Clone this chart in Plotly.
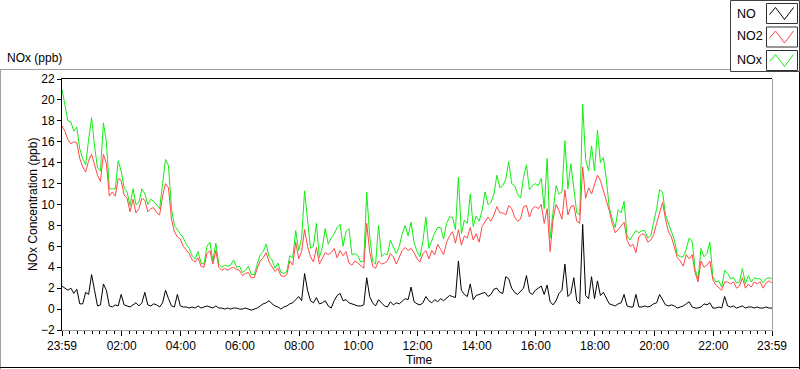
import plotly.graph_objects as go
import pandas as pd

# ---- data (ppb), one sample every 6 minutes from 23:59 to 23:59 next day ----
START_TIME = "2014-01-01 23:59"
STEP = "6min"

NO2 = [
    17.5, 17.0, 16.2, 15.8, 16.0, 15.9, 14.4, 13.6, 13.1, 14.2, 14.8, 13.8, 12.8, 12.2, 14.8, 13.9, 10.8, 11.2, 10.8, 12.5,
    12.3, 10.9, 10.6, 9.3, 10.5, 9.2, 9.6, 10.6, 10.4, 9.3, 9.6, 9.7, 9.2, 9.0, 10.8, 12.0, 11.6, 8.6, 7.4, 6.9, 6.7,
    6.0, 5.6, 5.3, 4.7, 4.5, 4.9, 4.1, 4.0, 5.3, 5.6, 4.3, 5.6, 4.0, 3.7, 3.9, 3.7, 3.9, 4.0, 3.8, 3.7,
    3.2, 3.4, 3.5, 3.0, 3.0, 3.9, 4.6, 4.9, 5.4, 4.5, 4.1, 3.6, 3.9, 3.2, 3.1, 3.3, 4.6, 4.2, 6.4, 4.8,
    5.5, 7.6, 6.0, 5.0, 4.5, 5.9, 4.3, 4.9, 5.4, 5.2, 5.4, 5.8, 4.9, 5.6, 5.1, 5.5, 4.4, 4.2, 4.6, 4.4,
    4.1, 3.9, 8.2, 5.5, 4.1, 3.9, 4.6, 4.3, 4.4, 4.6, 5.3, 5.0, 4.3, 5.0, 5.6, 5.9, 5.6, 5.8, 5.4, 4.8,
    4.5, 5.3, 5.6, 4.8, 5.6, 5.2, 6.2, 5.7, 5.2, 6.4, 7.0, 7.4, 6.3, 7.6, 6.1, 7.0, 6.8, 7.8, 6.6, 7.2,
    6.4, 7.9, 8.3, 8.8, 8.4, 9.0, 9.8, 9.2, 9.2, 9.0, 9.9, 9.6, 8.8, 8.4, 8.6, 9.8, 9.9, 8.8, 9.6, 9.8,
    9.6, 10.0, 8.2, 9.6, 5.5, 8.6, 10.0, 9.4, 8.6, 11.4, 9.0, 9.8, 9.9, 8.4, 8.2, 13.6, 10.6, 11.6, 11.0, 11.8,
    12.8, 12.3, 11.4, 10.4, 9.4, 8.2, 7.3, 7.6, 7.9, 8.3, 6.6, 6.0, 6.2, 5.4, 6.9, 7.2, 7.1, 6.4, 6.6, 7.1,
    8.2, 9.2, 10.2, 8.6, 7.4, 6.9, 5.8, 4.9, 4.6, 4.1, 5.2, 4.8, 5.2, 3.5, 2.6, 4.6, 4.0, 4.2, 4.6, 2.8,
    2.3, 2.0, 1.8, 2.6, 2.6, 2.4, 2.6, 2.0, 2.2, 3.0, 2.0, 2.4, 2.1, 2.6, 2.4, 2.6, 2.0, 2.5, 2.7, 2.5,
]

NOX = [
    21.0, 19.3, 18.0, 17.9, 17.0, 17.4, 15.3, 14.4, 13.8, 16.2, 18.3, 15.6, 13.5, 13.2, 17.8, 16.0, 11.5, 11.5, 11.5, 14.2,
    13.2, 11.6, 11.2, 9.9, 11.5, 10.0, 10.2, 11.5, 11.0, 10.0, 10.5, 10.3, 10.0, 9.6, 12.0, 14.3, 13.7, 9.6, 8.0, 7.6, 7.2,
    6.8, 6.2, 5.8, 5.1, 4.8, 5.5, 4.4, 4.3, 6.0, 6.4, 4.6, 6.3, 4.3, 4.0, 4.2, 4.1, 4.2, 4.7, 4.0, 4.1,
    3.5, 3.7, 4.1, 3.3, 3.3, 4.3, 5.2, 5.5, 6.2, 5.0, 4.7, 3.9, 4.4, 3.5, 3.4, 3.6, 5.1, 4.9, 7.5, 5.6,
    6.8, 11.3, 8.6, 5.8, 6.0, 8.2, 4.9, 5.9, 7.7, 6.2, 6.8, 7.2, 7.8, 8.1, 6.0, 7.4, 7.7, 5.2, 5.3, 5.1,
    4.5, 4.6, 11.2, 7.0, 4.6, 4.3, 8.0, 5.0, 5.3, 5.2, 6.6, 6.0, 5.3, 6.0, 7.2, 8.0, 7.0, 8.3, 6.4, 5.5,
    5.0, 6.5, 8.8, 5.8, 6.6, 7.3, 7.8, 7.8, 6.7, 8.2, 8.8, 8.8, 7.6, 12.6, 7.2, 8.5, 8.2, 11.0, 7.9, 8.9,
    8.4, 9.4, 11.2, 10.0, 10.2, 11.0, 12.8, 11.6, 11.8, 12.4, 14.1, 12.0, 11.8, 11.0, 10.6, 12.6, 13.8, 11.4, 11.8, 12.0,
    11.8, 12.5, 9.6, 14.4, 6.8, 9.6, 11.8, 11.0, 11.2, 16.1, 11.5, 13.9, 11.4, 9.2, 9.0, 19.6, 14.3, 13.2, 15.6, 13.2,
    17.1, 14.0, 14.5, 12.4, 9.7, 8.6, 7.8, 9.5, 9.2, 10.3, 7.0, 6.6, 7.1, 7.5, 7.3, 7.5, 7.5, 6.8, 7.0, 8.3,
    9.6, 11.4, 11.2, 9.0, 8.2, 7.5, 6.6, 5.2, 5.0, 5.0, 5.7, 6.8, 6.5, 3.8, 2.9, 5.8, 5.0, 5.3, 6.4, 3.1,
    2.6, 2.7, 2.1, 3.7, 3.4, 2.9, 3.0, 2.5, 2.6, 3.9, 2.4, 3.2, 2.6, 3.0, 2.9, 2.9, 2.5, 2.9, 3.0, 2.9,
]

NO = [
    2.2, 2.0, 1.8, 2.0, 1.5, 1.9, 0.5, 0.5, 1.6, 1.4, 3.3, 1.8, 0.3, 0.4, 2.4, 1.8, 0.3, 0.2, 0.4, 0.3,
    1.4, 0.4, 0.3, 0.2, 0.4, 0.6, 0.3, 0.6, 1.6, 0.4, 0.3, 0.5, 0.4, 0.2, 0.6, 1.8, 1.0, 0.3, 0.2, 1.4, 0.3,
    0.2, 0.2, 0.1, 0.2, 0.1, 0.3, 0.1, 0.2, 0.3, 0.2, 0.1, 0.3, 0.1, 0.1, 0.0, 0.1, 0.0, 0.1, 0.1, 0.0,
    0.0, 0.1, 0.0, -0.1, 0.0, 0.1, 0.3, 0.5, 0.6, 0.8, 0.5, 0.3, 0.2, 0.0, 0.2, 0.3, 0.5, 0.6, 0.9, 1.2,
    0.8, 3.4, 1.8, 0.8, 0.6, 1.1, 0.5, 0.6, 0.8, 0.3, 0.1, 0.8, 1.3, 1.5, 0.8, 0.9, 0.6, 0.5, 0.4, 0.3,
    0.3, 0.4, 3.0, 1.2, 0.6, 0.3, 0.9, 0.6, 0.3, 0.2, 0.7, 0.4, 0.6, 0.5, 0.8, 1.0, 0.9, 2.1, 0.7, 0.5,
    0.4, 0.6, 1.2, 0.8, 0.6, 0.9, 0.7, 1.0, 0.8, 1.1, 1.3, 1.2, 1.1, 4.6, 1.8, 1.4, 1.2, 2.4, 0.9, 1.3,
    1.4, 1.5, 1.6, 1.2, 1.4, 1.9, 2.0, 1.6, 1.5, 3.1, 2.9, 2.0, 1.6, 1.4, 1.7, 2.0, 3.2, 1.6, 1.4, 1.8,
    2.0, 2.2, 1.4, 2.3, 0.7, 0.4, 0.8, 1.5, 1.8, 4.3, 1.2, 1.5, 3.0, 0.8, 0.5, 8.1, 1.3, 1.0, 3.1, 1.0,
    2.7, 1.3, 1.6, 1.0, 0.5, 0.4, 0.3, 0.5, 0.6, 1.4, 0.3, 0.2, 0.2, 1.4, 0.2, 0.2, 0.3, 0.2, 0.3, 0.5,
    0.6, 1.4, 0.9, 0.4, 0.3, 0.4, 0.3, 0.1, 0.2, 0.3, 0.5, 0.7, 0.2, 0.1, 0.1, 0.2, 0.5, 0.4, 0.6, 0.1,
    0.1, 0.2, 0.1, 1.2, 0.3, 0.2, 0.3, 0.1, 0.2, 0.3, 0.1, 0.2, 0.2, 0.1, 0.2, 0.1, 0.1, 0.2, 0.1, 0.1,
]

TICK_TIMES = ["2014-01-01 23:59", "2014-01-02 02:00", "2014-01-02 04:00", "2014-01-02 06:00",
              "2014-01-02 08:00", "2014-01-02 10:00", "2014-01-02 12:00", "2014-01-02 14:00",
              "2014-01-02 16:00", "2014-01-02 18:00", "2014-01-02 20:00", "2014-01-02 22:00",
              "2014-01-02 23:59"]
TICK_LABELS = ["23:59", "02:00", "04:00", "06:00", "08:00", "10:00", "12:00", "14:00",
               "16:00", "18:00", "20:00", "22:00", "23:59"]
Y_RANGE = [-2, 22]
SERIES_NAMES = ["NO", "NO2", "NOx"]

assert len(NO2) == len(NOX) == len(NO) == 241, (len(NO2), len(NOX), len(NO))
times = pd.date_range(START_TIME, periods=len(NO2), freq=STEP)

W, H = 800, 369
PL, PR, PT, PB = 62, 772, 79, 330   # plot area in pixels
FONT = "Liberation Sans"
C_NO, C_NO2, C_NOX = "#000000", "#FF4848", "#11EE11"


def fx(px):
    return (px - PL) / (PR - PL)


def fy(py):
    return (PB - py) / (PB - PT)


fig = go.Figure()
fig.add_trace(go.Scatter(x=times, y=NOX, mode="lines", line=dict(color=C_NOX, width=1), name="NOx", showlegend=False))
fig.add_trace(go.Scatter(x=times, y=NO2, mode="lines", line=dict(color=C_NO2, width=1), name="NO2", showlegend=False))
fig.add_trace(go.Scatter(x=times, y=NO, mode="lines", line=dict(color=C_NO, width=1), name="NO", showlegend=False))

shapes = []


def line(x0, y0, x1, y1, color, width=1):
    shapes.append(dict(type="line", xref="paper", yref="paper", x0=fx(x0), y0=fy(y0), x1=fx(x1), y1=fy(y1),
                       line=dict(color=color, width=width), layer="above"))


# plot frame
line(PL, PT - 0.5, PR, PT - 0.5, "#000000")
line(PR + 0.5, PT, PR + 0.5, PB, "#A0A0A0")
line(PL, PB + 0.5, PR + 0.5, PB + 0.5, "#A0A0A0")
line(PL - 0.5, PT - 1, PL - 0.5, PB + 1, "#000000")

# outer panel frame
line(0, 69.5, 730, 69.5, "#A0A0A0")
line(0.5, 69.5, 0.5, H, "#A0A0A0")
line(0, H - 1.5, W, H - 1.5, "#000000")
line(W - 0.5, 71.5, W - 0.5, H, "#000000")

# legend box
shapes.append(dict(type="rect", xref="paper", yref="paper", x0=fx(730.5), x1=fx(799.5), y0=fy(71.5), y1=fy(0.5),
                   line=dict(color="#404040", width=1), fillcolor="white", layer="above"))
rows = [(3.5, 23.5, 13.5), (27, 47, 36), (50.5, 70.5, 60)]
colors = [C_NO, C_NO2, C_NOX]
annotations = []
for (ya, yb, yc), col, name in zip(rows, colors, SERIES_NAMES):
    bx0, bx1 = 766.5, 797.5
    shapes.append(dict(type="rect", xref="paper", yref="paper", x0=fx(bx0), x1=fx(bx1), y0=fy(yb), y1=fy(ya),
                       line=dict(color="#303030", width=1), fillcolor="white", layer="above"))
    pts = [(bx0 + 3, yb - 9), (bx0 + 9, ya + 4), (bx0 + 18, yb - 4), (bx0 + 27, ya + 4)]
    path = "M " + " L ".join(f"{fx(px)},{fy(py)}" for px, py in pts)
    shapes.append(dict(type="path", xref="paper", yref="paper", path=path,
                       line=dict(color=col, width=1), layer="above"))
    annotations.append(dict(text=name, x=fx(735), y=fy(yc), xref="paper", yref="paper",
                            xanchor="left", yanchor="middle", showarrow=False,
                            font=dict(family=FONT, size=12.5, color="#000000")))

annotations += [
    dict(text="NOx (ppb)", x=fx(5), y=fy(58), xref="paper", yref="paper", xanchor="left", yanchor="middle",
         showarrow=False, font=dict(family=FONT, size=12, color="#000000")),
    dict(text="NOx Concentration (ppb)", x=fx(33), y=fy(205), xref="paper", yref="paper", xanchor="center",
         yanchor="middle", textangle=-90, showarrow=False, font=dict(family=FONT, size=12, color="#000000")),
    dict(text="Time", x=fx(419), y=fy(360), xref="paper", yref="paper", xanchor="center", yanchor="middle",
         showarrow=False, font=dict(family=FONT, size=12, color="#000000")),
]

fig.update_layout(
    width=W, height=H,
    margin=dict(l=PL, r=W - PR, t=PT, b=H - PB, pad=0),
    paper_bgcolor="white", plot_bgcolor="white",
    showlegend=False,
    shapes=shapes, annotations=annotations,
    font=dict(family=FONT, size=12, color="#000000"),
    xaxis=dict(
        type="date", range=[times[0], times[-1]],
        tickmode="array", tickvals=TICK_TIMES, ticktext=TICK_LABELS,
        ticks="outside", ticklen=5, tickwidth=1, tickcolor="#000000",
        showgrid=False, zeroline=False, showline=False,
        tickfont=dict(family=FONT, size=12, color="#000000"),
        minor=dict(tickmode="linear", tick0="2014-01-02 00:00", dtick=15 * 60 * 1000,
                   ticks="outside", ticklen=3, tickwidth=1, tickcolor="#000000", showgrid=False),
    ),
    yaxis=dict(
        range=Y_RANGE, tickmode="linear", tick0=-2, dtick=2,
        ticks="outside", ticklen=4, tickwidth=1, tickcolor="#000000",
        showgrid=False, zeroline=False, showline=False,
        tickfont=dict(family=FONT, size=12, color="#000000"),
    ),
)

fig.write_html(
    "out.html",
    config={"displayModeBar": False},
    post_script="document.body.style.margin='0';document.body.style.overflow='hidden';",
)
